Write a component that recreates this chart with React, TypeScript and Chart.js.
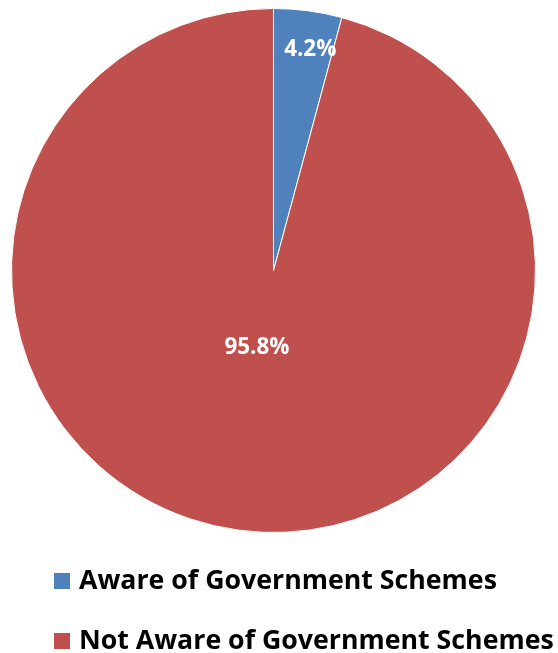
import React, { useEffect, useRef } from "react";
import { Chart, registerables } from "chart.js";

Chart.register(...registerables);

const categories = ["Aware of Government Schemes", "Not Aware of Government Schemes"];
const values = [4.2, 95.8];
const valueLabels = ["4.2%", "95.8%"];
const colors = ["#4F81BD", "#C0504D"];
const labelRadiusFactors = [0.853, 0.302];
const labelAngleOffsetsDeg = [1.9, 4.5];

function fitFont(ctx: CanvasRenderingContext2D, text: string, family: string, target: number) {
  ctx.font = `bold 20px ${family}`;
  const w = ctx.measureText(text).width;
  const size = (20 * target) / w;
  return `bold ${size.toFixed(2)}px ${family}`;
}

const labelPlugin = {
  id: "sliceLabels",
  afterDatasetsDraw(chart: any) {
    const ctx = chart.ctx;
    const meta = chart.getDatasetMeta(0);
    ctx.save();
    const font = fitFont(ctx, "95.8%", "'Open Sans'", 65);
    ctx.fillStyle = "#ffffff";
    ctx.font = font;
    ctx.textAlign = "center";
    ctx.textBaseline = "middle";
    meta.data.forEach((arc: any, i: number) => {
      const p = arc.getProps(["x", "y", "startAngle", "endAngle", "outerRadius"], true);
      const mid = (p.startAngle + p.endAngle) / 2 + (labelAngleOffsetsDeg[i] * Math.PI) / 180;
      const r = p.outerRadius * labelRadiusFactors[i];
      ctx.fillText(valueLabels[i], p.x + Math.cos(mid) * r, p.y + Math.sin(mid) * r);
    });
    ctx.restore();
  },
};

const legendPlugin = {
  id: "customLegend",
  afterDraw(chart: any) {
    const ctx = chart.ctx;
    ctx.save();
    const font = fitFont(ctx, categories[0], "'Open Sans'", 418);
    ctx.font = font;
    ctx.textBaseline = "alphabetic";
    ctx.textAlign = "left";
    const rows = [589, 649];
    categories.forEach((c, i) => {
      ctx.fillStyle = colors[i];
      ctx.fillRect(54, rows[i] - 16, 16, 16);
      ctx.fillStyle = "#000000";
      ctx.fillText(c, 79, rows[i]);
    });
    ctx.restore();
  },
};

export default function App() {
  const ref = useRef<HTMLCanvasElement>(null);
  useEffect(() => {
    if (!ref.current) return;
    const chart = new Chart(ref.current, {
      type: "pie",
      data: {
        labels: categories,
        datasets: [
          {
            data: values,
            backgroundColor: colors,
            borderColor: "#ffffff",
            borderWidth: 1,
          },
        ],
      },
      options: {
        responsive: false,
        animation: false,
        layout: { padding: { left: 11, right: 22, top: 8, bottom: 120 } },
        plugins: {
          legend: { display: false },
          tooltip: { enabled: false },
        },
      },
      plugins: [labelPlugin, legendPlugin],
    });
    return () => chart.destroy();
  }, []);
  return (
    <div style={{ position: "fixed", left: 0, top: 0, width: 558, height: 653, background: "#fff" }}>
      <canvas ref={ref} width={558} height={653} style={{ display: "block" }} />
    </div>
  );
}
